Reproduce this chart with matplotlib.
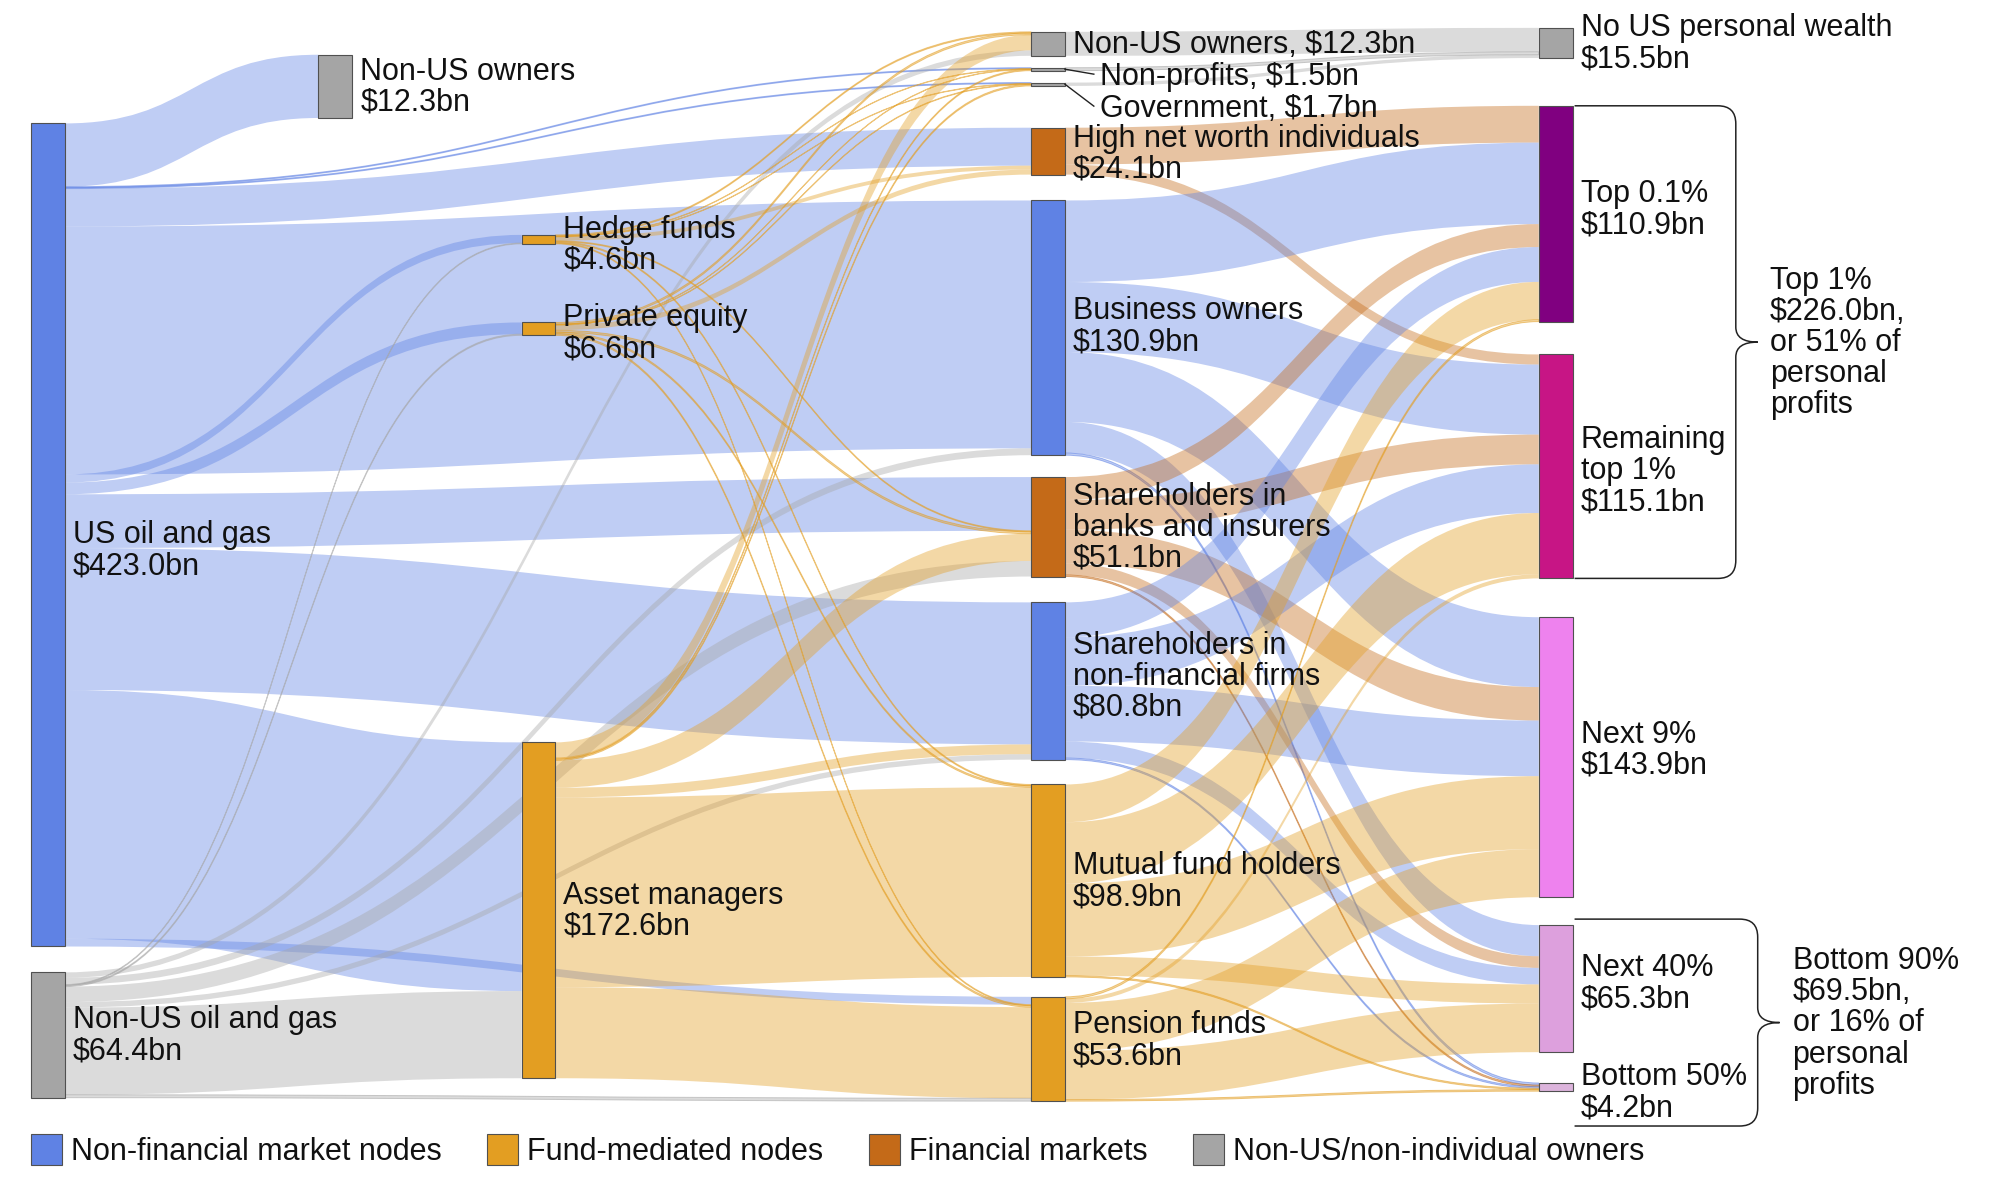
import matplotlib
matplotlib.use("Agg")
import matplotlib.pyplot as plt
from matplotlib.path import Path
from matplotlib.patches import PathPatch, Rectangle, Patch
from matplotlib.colors import to_rgba

plt.rcParams['font.family'] = ['Liberation Sans', 'DejaVu Sans']

# ---------------- data ----------------
node_names = ["us_oil", "nonus_oil", "nonus_own1", "hedge", "pe", "asset",
              "nonus_own3", "nonprofit", "gov", "hnwi", "business", "banks",
              "nonfin", "mutual", "pension",
              "no_us", "top01", "rem1", "next9", "next40", "bottom50"]

node_labels = {
    "us_oil": "US oil and gas\n$423.0bn",
    "nonus_oil": "Non-US oil and gas\n$64.4bn",
    "nonus_own1": "Non-US owners\n$12.3bn",
    "hedge": "Hedge funds\n$4.6bn",
    "pe": "Private equity\n$6.6bn",
    "asset": "Asset managers\n$172.6bn",
    "nonus_own3": "Non-US owners, $12.3bn",
    "nonprofit": "Non-profits, $1.5bn",
    "gov": "Government, $1.7bn",
    "hnwi": "High net worth individuals\n$24.1bn",
    "business": "Business owners\n$130.9bn",
    "banks": "Shareholders in\nbanks and insurers\n$51.1bn",
    "nonfin": "Shareholders in\nnon-financial firms\n$80.8bn",
    "mutual": "Mutual fund holders\n$98.9bn",
    "pension": "Pension funds\n$53.6bn",
    "no_us": "No US personal wealth\n$15.5bn",
    "top01": "Top 0.1%\n$110.9bn",
    "rem1": "Remaining\ntop 1%\n$115.1bn",
    "next9": "Next 9%\n$143.9bn",
    "next40": "Next 40%\n$65.3bn",
    "bottom50": "Bottom 50%\n$4.2bn",
}

link_source = (["us_oil"] * 11 + ["nonus_oil"] * 8 + ["hedge"] * 7 + ["pe"] * 7 + ["asset"] * 7
               + ["hnwi"] * 2 + ["business"] * 5 + ["banks"] * 5 + ["nonfin"] * 5
               + ["mutual"] * 5 + ["pension"] * 5 + ["nonus_own3", "nonprofit", "gov"])
link_target = (["nonus_own1", "nonprofit", "gov", "hnwi", "business", "hedge", "pe", "banks", "nonfin", "asset", "pension"]
               + ["hedge", "pe", "asset", "nonus_own3", "business", "banks", "nonfin", "pension"]
               + ["nonus_own3", "nonprofit", "gov", "hnwi", "banks", "mutual", "pension"]
               + ["nonus_own3", "nonprofit", "gov", "hnwi", "banks", "mutual", "pension"]
               + ["nonus_own3", "nonprofit", "gov", "banks", "nonfin", "mutual", "pension"]
               + ["top01", "rem1"]
               + ["top01", "rem1", "next9", "next40", "bottom50"] * 5
               + ["no_us", "no_us", "no_us"])
link_value = ([32.5, 0.5, 0.5, 19.5, 127.4, 4.2, 6.0, 27.6, 73.0, 127.8, 4.0]
              + [0.4, 0.6, 44.8, 2.8, 3.5, 8.0, 2.8, 1.5]
              + [0.6, 0.2, 0.2, 2.0, 0.5, 0.6, 0.5]
              + [0.9, 0.2, 0.3, 2.6, 1.0, 0.8, 0.8]
              + [8.0, 0.6, 0.7, 14.0, 5.0, 97.5, 46.8]
              + [18.9, 5.2]
              + [41.9, 36.0, 35.9, 16.0, 1.1]
              + [11.8, 15.3, 17.2, 6.0, 0.8]
              + [17.9, 25.0, 28.6, 8.5, 0.8]
              + [19.4, 31.5, 37.5, 9.8, 0.7]
              + [1.0, 2.1, 24.7, 25.0, 0.8]
              + [12.3, 1.5, 1.7])

legend_labels = ["Non-financial market nodes", "Fund-mediated nodes", "Financial markets",
                 "Non-US/non-individual owners"]

brace_labels = ["Top 1%\n$226.0bn,\nor 51% of\npersonal\nprofits",
                "Bottom 90%\n$69.5bn,\nor 16% of\npersonal\nprofits"]

# ---------------- style / layout ----------------
BLUE, FUND, FIN, GREY = "#5f82e4", "#e39e22", "#c46a18", "#a5a5a5"
legend_colors = [BLUE, FUND, FIN, GREY]
node_color = {
    "us_oil": BLUE, "nonus_oil": GREY, "nonus_own1": GREY, "hedge": FUND, "pe": FUND, "asset": FUND,
    "nonus_own3": GREY, "nonprofit": GREY, "gov": GREY, "hnwi": FIN, "business": BLUE, "banks": FIN,
    "nonfin": BLUE, "mutual": FUND, "pension": FUND, "no_us": GREY,
    "top01": "#800080", "rem1": "#c71585", "next9": "#ee82ee", "next40": "#dda0dd", "bottom50": "#dcb4dc",
}
S = 0.9953         # overall layout scale
K = 1.955          # layout units per $bn
NODE_W = 34
columns = [
    (31, [("us_oil", 124), ("nonus_oil", 26)]),
    (320, [("nonus_own1", 55)]),
    (524, [("hedge", 236), ("pe", 79), ("asset", 409)]),
    (1036, [("nonus_own3", 32), ("nonprofit", 12), ("gov", 12), ("hnwi", 42), ("business", 26),
            ("banks", 22), ("nonfin", 26), ("mutual", 25), ("pension", 20)]),
    (1546, [("no_us", 28), ("top01", 48), ("rem1", 33), ("next9", 39), ("next40", 28), ("bottom50", 31)]),
]
FS = 22
LS = 31.2
CAP = 0.716 * FS * 100 / 72
TEXT_C = "#111111"
label_dy = {"us_oil": 15, "top01": -5, "next9": -8, "next40": -6, "business": -2,
            "hedge": 5, "pe": 4, "hnwi": 2, "pension": -9, "nonfin": -5, "bottom50": 5, "rem1": 4}

fig = plt.figure(figsize=(20, 11.91), dpi=100)
ax = fig.add_axes([0, 0, 1, 1])
ax.set_xlim(0, 2000 / S)
ax.set_ylim(1191 / S, 0)
ax.axis("off")

# node values from flows
vin = {n: 0.0 for n in node_names}
vout = {n: 0.0 for n in node_names}
for s, t, v in zip(link_source, link_target, link_value):
    vout[s] += v
    vin[t] += v
node_val = {n: max(vin[n], vout[n]) for n in node_names}

pos = {}
for x, items in columns:
    y = 0.0
    for name, gap in items:
        y += gap
        h = node_val[name] * K
        pos[name] = (x, y, h)
        y += h

# link breadths
n_links = len(link_value)
sy = [None] * n_links
ty = [None] * n_links
for n in node_names:
    outs = sorted([i for i in range(n_links) if link_source[i] == n], key=lambda i: pos[link_target[i]][1])
    ins = sorted([i for i in range(n_links) if link_target[i] == n], key=lambda i: pos[link_source[i]][1])
    y = pos[n][1]
    for i in outs:
        sy[i] = (y, y + link_value[i] * K)
        y += link_value[i] * K
    y = pos[n][1]
    for i in ins:
        ty[i] = (y, y + link_value[i] * K)
        y += link_value[i] * K

for i in range(n_links):
    s, t = link_source[i], link_target[i]
    xs = pos[s][0] + NODE_W
    xt = pos[t][0]
    xm = (xs + xt) / 2
    (a0, a1), (b0, b1) = sy[i], ty[i]
    verts = [(xs, a0), (xm, a0), (xm, b0), (xt, b0), (xt, b1), (xm, b1), (xm, a1), (xs, a1), (xs, a0)]
    codes = [Path.MOVETO, Path.CURVE4, Path.CURVE4, Path.CURVE4, Path.LINETO,
             Path.CURVE4, Path.CURVE4, Path.CURVE4, Path.CLOSEPOLY]
    col = node_color[s]
    thin = link_value[i] * K < 3
    ax.add_patch(PathPatch(Path(verts, codes), facecolor=to_rgba(col, 0.4),
                           edgecolor=to_rgba(col, 0.55) if thin else "none",
                           lw=0.7 if thin else 0, zorder=1))

# nodes
for n in node_names:
    x, y, h = pos[n]
    ax.add_patch(Rectangle((x, y), NODE_W, h, facecolor=node_color[n], edgecolor="#505050",
                           lw=0.8, zorder=2))


def draw_label(x, yc, text, fs=FS):
    lines = text.split("\n")
    k = len(lines)
    for j, line in enumerate(lines):
        yb = yc + (j - (k - 1) / 2) * LS + CAP / 2 - 2
        ax.text(x, yb, line, fontsize=fs, va="baseline", ha="left", color=TEXT_C, zorder=4)


special = {"nonprofit": (35, 7), "gov": (35, 24)}
for n in node_names:
    x, y, h = pos[n]
    xr = x + NODE_W
    yc = y + h / 2
    if n in special:
        dx, dy = special[n]
        ax.plot([xr, xr + dx - 6], [yc, yc + dy - 2], color="#222222", lw=1.0, zorder=4)
        draw_label(xr + dx, yc + dy, node_labels[n])
    else:
        draw_label(xr + 8, yc + label_dy.get(n, 0), node_labels[n])


def brace(x0, xv, xtip, ytop, ybot, r=18, rt=15):
    ym = (ytop + ybot) / 2
    verts = [(x0, ytop), (xv - r, ytop), (xv, ytop), (xv, ytop + r), (xv, ym - rt), (xv, ym),
             (xtip, ym), (xv, ym), (xv, ym + rt), (xv, ybot - r), (xv, ybot), (xv - r, ybot), (x0, ybot)]
    codes = [Path.MOVETO, Path.LINETO, Path.CURVE3, Path.CURVE3, Path.LINETO, Path.CURVE3, Path.CURVE3,
             Path.CURVE3, Path.CURVE3, Path.LINETO, Path.CURVE3, Path.CURVE3, Path.LINETO]
    ax.add_patch(PathPatch(Path(verts, codes), facecolor="none", edgecolor="#222222", lw=1.1, zorder=4))
    return ym


xr4 = pos["top01"][0] + NODE_W
ym1 = brace(xr4 + 2, xr4 + 164, xr4 + 186, pos["top01"][1], pos["rem1"][1] + pos["rem1"][2])
draw_label(xr4 + 198, ym1, brace_labels[0])
ym2 = brace(xr4 + 2, xr4 + 186, xr4 + 208, pos["next40"][1] - 6, pos["bottom50"][1] + pos["bottom50"][2] + 35)
draw_label(xr4 + 221, ym2, brace_labels[1])

handles = [Patch(facecolor=c, edgecolor="#505050", lw=0.8) for c in legend_colors]
ax.legend(handles, legend_labels, ncol=4, loc="lower left", bbox_to_anchor=(31 / 2000, 24 / 1191),
          frameon=False, fontsize=FS, handlelength=1.0, handleheight=1.15, handletextpad=0.3,
          columnspacing=1.5, borderpad=0, borderaxespad=0, labelcolor=TEXT_C)

fig.savefig("out.png", dpi=100, facecolor="white")
